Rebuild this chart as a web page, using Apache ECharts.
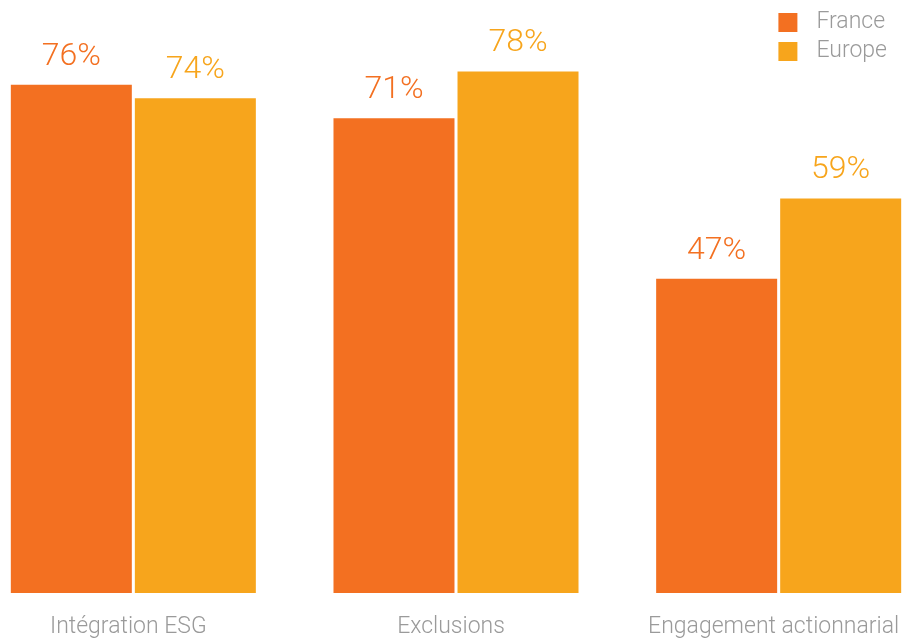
<!DOCTYPE html>
<html><head><meta charset="utf-8">
<script src="https://cdn.jsdelivr.net/npm/echarts@6/dist/echarts.min.js"></script>
<style>html,body{margin:0;padding:0;background:#fff;overflow:hidden;width:904px;height:639px}
#c{position:absolute;left:-28.4px;top:0;width:968px;height:639px}</style>
</head><body><div id="c"></div>
<script>
var categories = ['Intégration ESG', 'Exclusions', 'Engagement actionnarial'];
var franceValues = [76, 71, 47];
var europeValues = [74, 78, 59];
var seriesNames = ['France', 'Europe'];

var FONT = 'Roboto, "Liberation Sans", sans-serif';
var chart = echarts.init(document.getElementById('c'), null, {renderer: 'canvas'});
function lbl(color) {
  return {show: true, position: 'top', distance: 12, color: color, fontFamily: FONT,
    fontWeight: 300, fontSize: 32, formatter: function (p) { return p.value + '%'; }};
}
chart.setOption({
  animation: false,
  backgroundColor: '#fff',
  legend: {
    orient: 'vertical', left: 801.4, top: 6, itemWidth: 19, itemHeight: 19, itemGap: 6,
    icon: 'rect', data: seriesNames,
    textStyle: {color: '#9a9a9a', fontFamily: FONT, fontWeight: 300, fontSize: 23, lineHeight: 19, padding: [0, 0, 0, 14]}
  },
  grid: {left: 0, right: 0, top: 58, bottom: 45, containLabel: false},
  xAxis: {
    type: 'category', data: categories,
    axisLine: {show: false}, axisTick: {show: false},
    axisLabel: {interval: 0, color: '#9a9a9a', fontFamily: FONT, fontWeight: 300, fontSize: 23, margin: 23, padding: [0, 10, 0, 0]}
  },
  yAxis: {type: 'value', min: 0, max: 80, show: false, splitLine: {show: false}},
  series: [
    {name: seriesNames[0], type: 'bar', data: franceValues, barWidth: 121, barGap: '2.5%',
      itemStyle: {color: '#F37021'}, label: lbl('#F37021')},
    {name: seriesNames[1], type: 'bar', data: europeValues, barWidth: 121, barGap: '2.5%',
      itemStyle: {color: '#F7A51C'}, label: lbl('#F7A51C')}
  ]
});
</script></body></html>
